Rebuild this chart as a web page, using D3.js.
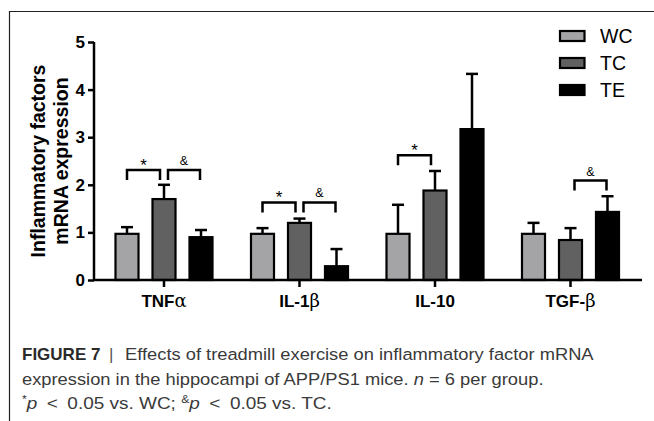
<!DOCTYPE html>
<html><head><meta charset="utf-8">
<script src="https://cdn.jsdelivr.net/npm/d3@7"></script>
<style>
html,body{margin:0;padding:0;background:#fff;}
svg{display:block;}
</style></head>
<body>
<svg id="chart" width="654" height="421"></svg>
<script>
// ---- data ----
const categories = ["TNF", "IL-1", "IL-10", "TGF-"];
const categoryGreek = ["α", "β", "", "β"];
const seriesNames = ["WC", "TC", "TE"];
const meanWC = [0.97, 0.97, 0.97, 0.97];
const meanTC = [1.70, 1.20, 1.88, 0.84];
const meanTE = [0.90, 0.29, 3.17, 1.43];
const upperWC = [1.11, 1.09, 1.58, 1.20];
const upperTC = [2.00, 1.29, 2.29, 1.09];
const upperTE = [1.05, 0.65, 4.33, 1.76];
const yTicks = [0, 1, 2, 3, 4, 5];
// significance brackets: [category index, from series, to series, level, symbol]
const brackets = [
  [0, 0, 1, 2.31, "*"],
  [0, 1, 2, 2.31, "&"],
  [1, 0, 1, 1.63, "*"],
  [1, 1, 2, 1.63, "&"],
  [2, 0, 1, 2.62, "*"],
  [3, 1, 2, 2.09, "&"]
];
const yTitle = ["Inflammatory factors", "mRNA expression"];

const means = [meanWC, meanTC, meanTE];
const uppers = [upperWC, upperTC, upperTE];
const fills = ["#a4a4a7", "#616161", "#000000"];

const svg = d3.select("#chart");
const FONT = "Liberation Sans, Arial, Helvetica, sans-serif";

// frame
svg.append("path").attr("d", "M9.5,421 L9.5,11.5 L654,11.5")
  .attr("fill", "none").attr("stroke", "#222").attr("stroke-width", 1.2);

const x0 = d3.scaleBand().domain(d3.range(categories.length)).range([96.25, 638.25]).paddingInner(0).paddingOuter(0);
const x1 = d3.scaleBand().domain(d3.range(seriesNames.length)).range([-55.5, 55.5]).paddingInner(0.378).paddingOuter(0.189);
const y = d3.scaleLinear().domain([0, 5]).range([280, 42]);
const cx = (c, s) => x0(c) + x0.bandwidth() / 2 + x1(s) + x1.bandwidth() / 2;
const gc = c => x0(c) + x0.bandwidth() / 2;

// bars
const barG = svg.append("g");
seriesNames.forEach((name, s) => {
  categories.forEach((cat, c) => {
    const left = x0(c) + x0.bandwidth() / 2 + x1(s);
    barG.append("line").attr("x1", cx(c, s)).attr("x2", cx(c, s))
      .attr("y1", y(means[s][c])).attr("y2", y(uppers[s][c]))
      .attr("stroke", "#000").attr("stroke-width", 2.5);
    barG.append("line").attr("x1", cx(c, s) - 6).attr("x2", cx(c, s) + 6)
      .attr("y1", y(uppers[s][c])).attr("y2", y(uppers[s][c]))
      .attr("stroke", "#000").attr("stroke-width", 2.5);
    barG.append("rect").attr("x", left).attr("width", x1.bandwidth())
      .attr("y", y(means[s][c])).attr("height", y(0) - y(means[s][c]))
      .attr("fill", fills[s]).attr("stroke", "#000").attr("stroke-width", 2.2);
  });
});

// y axis
const yAxis = svg.append("g").attr("transform", "translate(94,0)")
  .call(d3.axisLeft(y).tickValues(yTicks).tickFormat(d3.format("d")).tickSize(6).tickPadding(3).tickSizeOuter(0));
yAxis.select(".domain").attr("stroke-width", 2.5).attr("d", `M0,${y(5)}V${y(0)}`);
yAxis.selectAll(".tick line").attr("stroke-width", 2.5);
yAxis.selectAll(".tick text").attr("font-family", FONT).attr("font-weight", "bold").attr("font-size", 17).attr("fill", "#000");

// x axis
const xAxis = svg.append("g").attr("transform", `translate(0,${y(0)})`)
  .call(d3.axisBottom(x0).tickSize(7).tickSizeOuter(0).tickFormat(""));
xAxis.select(".domain").attr("stroke-width", 2.5).attr("d", "M93,0H642");
xAxis.selectAll(".tick line").attr("stroke-width", 2.5);

// category labels
categories.forEach((cat, c) => {
  const t = svg.append("text").attr("x", gc(c)).attr("y", 307).attr("text-anchor", "middle")
    .attr("font-family", FONT).attr("font-size", 17).attr("font-weight", "bold").attr("fill", "#000");
  t.append("tspan").text(cat);
  if (categoryGreek[c]) t.append("tspan").attr("font-family", "DejaVu Serif, Liberation Serif, serif")
    .attr("font-weight", "normal").attr("font-size", 18).text(categoryGreek[c]);
});

// y title
yTitle.forEach((line, i) => {
  svg.append("text").attr("transform", `translate(${45 + i * 23},161) rotate(-90)`)
    .attr("text-anchor", "middle").attr("font-family", FONT).attr("font-weight", "bold")
    .attr("font-size", 19.5).attr("fill", "#000").text(line);
});

// brackets
brackets.forEach(([c, a, b, lvl, sym]) => {
  const xa = cx(c, a) + (a === 1 ? 4 : 0);
  const xb = cx(c, b) - (b === 1 ? 4 : 1);
  const ly = y(lvl);
  svg.append("path").attr("d", `M${xa},${ly + 10}V${ly}H${xb}V${ly + 10}`)
    .attr("fill", "none").attr("stroke", "#000").attr("stroke-width", 2.5);
  svg.append("text").attr("x", (xa + xb) / 2).attr("y", sym === "*" ? ly + 1 : ly - 5)
    .attr("text-anchor", "middle").attr("font-family", FONT)
    .attr("font-size", sym === "*" ? 17 : 12.5).attr("fill", "#000").text(sym);
});

// legend
seriesNames.forEach((name, s) => {
  const ly = 36 + s * 27;
  svg.append("rect").attr("x", 560).attr("y", ly - 5).attr("width", 24.5).attr("height", 10)
    .attr("fill", fills[s]).attr("stroke", "#000").attr("stroke-width", 2.2);
  svg.append("text").attr("x", 600).attr("y", ly + 7).attr("font-family", FONT)
    .attr("font-size", 19.5).attr("fill", "#000").text(name);
});

// caption: each piece fitted horizontally to the reference width
const capColor = "#3a3a3a";
function capText(xPos, yPos, width, size, build) {
  const t = svg.append("text").attr("x", 0).attr("y", 0).attr("font-family", FONT)
    .attr("font-size", size).attr("fill", capColor);
  build(t);
  const w = t.node().getComputedTextLength();
  const k = width ? width / w : 1;
  t.attr("transform", `translate(${xPos},${yPos}) scale(${k},1)`);
  return t;
}
capText(22, 360, 0, 17, t => t.attr("font-weight", "bold").attr("fill", "#2a2a2a").text("FIGURE 7"));
capText(109, 360, 0, 17, t => t.attr("fill", "#555").text("|"));
capText(125, 360, 469, 17, t => t.text("Effects of treadmill exercise on inflammatory factor mRNA"));
capText(22, 384.5, 522, 17, t => {
  t.append("tspan").text("expression in the hippocampi of APP/PS1 mice. ");
  t.append("tspan").attr("font-style", "italic").text("n");
  t.append("tspan").text(" = 6 per group.");
});
capText(22, 408.5, 310, 17, t => {
  t.append("tspan").attr("font-size", 11).attr("dy", -6).text("*");
  t.append("tspan").attr("font-style", "italic").attr("dy", 6).text("p");
  t.append("tspan").text("\u2002<\u20020.05 vs. WC; ");
  t.append("tspan").attr("font-size", 11).attr("dy", -6).text("&");
  t.append("tspan").attr("font-style", "italic").attr("dy", 6).text("p");
  t.append("tspan").text("\u2002<\u20020.05 vs. TC.");
});
</script>
</body></html>
